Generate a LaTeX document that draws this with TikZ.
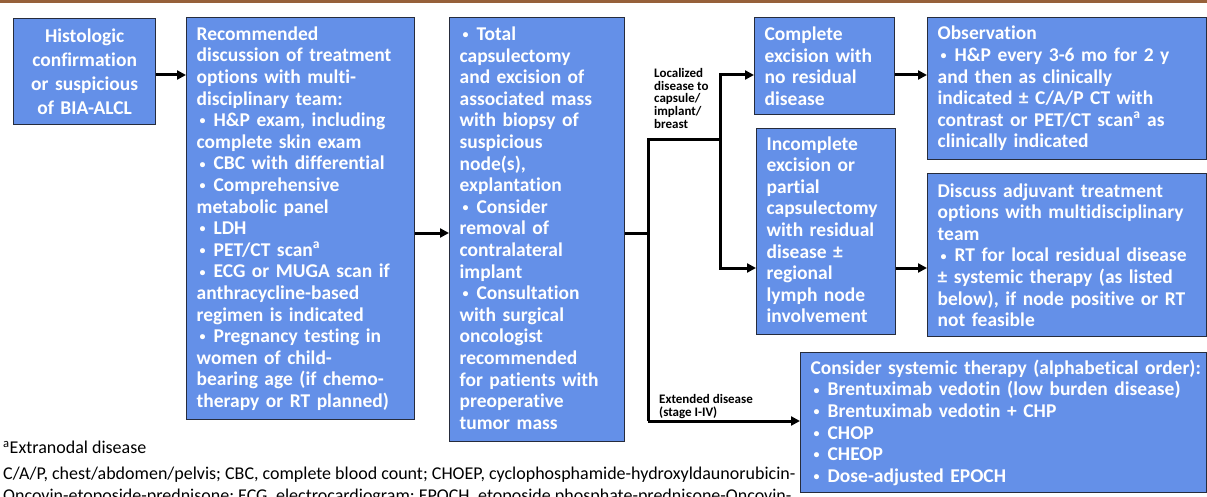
\documentclass[tikz,border=0pt]{standalone}
\usepackage{fontspec}
\setmainfont{Carlito}[Ligatures=NoCommon]
\usetikzlibrary{arrows.meta}
\definecolor{boxfill}{RGB}{100,144,232}
\definecolor{boxline}{RGB}{38,44,60}
\definecolor{topbar}{RGB}{150,96,58}
\tikzset{>={Triangle[length=9pt,width=9pt]}}
\tikzset{
  box/.style={draw=boxline, line width=1.3pt, fill=boxfill, text=white, anchor=north west,
    inner xsep=10pt, inner ysep=0pt,
    font=\bfseries\fontsize{19.5}{21.6}\selectfont},
  listbox/.style={box,
    execute at begin node={\parindent=0pt\rightskip=-12pt plus 1fil\relax}},
  conn/.style={line width=3pt},
  tag/.style={anchor=north west, inner sep=0pt, align=left, font=\bfseries\fontsize{13}{12.8}\selectfont},
  note/.style={anchor=north west, inner sep=0pt, align=left, font=\fontsize{18}{22}\selectfont}
}
\newcommand{\bitem}{\par\hangindent=17pt\hangafter=1\noindent
  \hbox to 17pt{\hskip3pt\raisebox{1.8pt}{\fontsize{12}{12}\selectfont\textbullet}\hfil}}

\begin{document}
\begin{tikzpicture}[x=1pt, y=-1pt]

  \useasboundingbox (0,0) rectangle (1207,497);
  \clip (0,0) rectangle (1207,497);
  \fill[topbar] (0,0) rectangle (1207,3);

  % Boxes, left to right
  \node[box, text width=122pt, minimum height=106pt, align=center,
        font=\bfseries\fontsize{19.5}{24}\selectfont] (hist) at (13,18)
    {Histologic\\confirmation\\or suspicious\\of BIA-ALCL};
  \node[listbox, text width=208pt, minimum height=402pt] (disc) at (186,17)
    {Recommended\\discussion of treatment\\options with multi-\\disciplinary team:
     \bitem H\&P exam, including\\complete skin exam
     \bitem CBC with differential
     \bitem Comprehensive\\metabolic panel
     \bitem LDH
     \bitem PET/CT scan\textsuperscript{a}
     \bitem ECG or MUGA scan if\\anthracycline-based\\regimen is indicated
     \bitem Pregnancy testing in\\women of child-\\bearing age (if chemo-\\therapy or RT planned)};
  \node[listbox, text width=155pt, minimum height=424pt] (surg) at (449,17)
    {\bitem Total\\capsulectomy\\and excision of\\associated mass\\with biopsy of\\suspicious\\node(s),\\explantation
     \bitem Consider\\removal of\\contralateral\\implant
     \bitem Consultation\\with surgical\\oncologist\\recommended\\for patients with\\preoperative\\tumor mass\par\vspace{11pt}};
  \node[listbox, text width=120pt, minimum height=97pt] (compl) at (754,17)
    {Complete\\excision with\\no residual\\disease};
  \node[listbox, text width=119pt, minimum height=206pt] (incompl) at (756,128)
    {Incomplete\\excision or\\partial\\capsulectomy\\with residual\\disease ±\\regional\\lymph node\\involvement\par\vspace{4pt}};
  \node[listbox, text width=259pt, minimum height=142pt] (obs) at (927,17)
    {Observation
     \bitem H\&P every 3-6 mo for 2 y\\and then as clinically\\indicated ± C/A/P CT with\\contrast or PET/CT scan\textsuperscript{a} as\\clinically indicated};
  \node[listbox, text width=259pt, minimum height=163pt] (adj) at (927,173)
    {Discuss adjuvant treatment\\options with multidisciplinary\\team
     \bitem RT for local residual disease\\± systemic therapy (as listed\\below), if node positive or RT\\not feasible};
  \node[listbox, text width=386pt, minimum height=140pt] (sys) at (800,352)
    {Consider systemic therapy (alphabetical order):
     \bitem Brentuximab vedotin (low burden disease)
     \bitem Brentuximab vedotin + CHP
     \bitem CHOP
     \bitem CHEOP
     \bitem Dose-adjusted EPOCH};

  % Branch labels
  \node[tag] (loclab) at (654,68) {Localized\\disease to\\capsule/\\implant/\\breast};
  \node[tag] (extlab) at (659,394) {Extended disease\\(stage I-IV)};

  % Connectors
  \coordinate (r1) at (0,75);
  \coordinate (mid) at (0,233);
  \coordinate (r2) at (0,268);
  \coordinate (split) at (648,233);
  \coordinate (fork) at (720,140);
  \coordinate (ext) at (648,421);
  \draw[conn,->] (hist.east |- r1) -- (disc.west |- r1);
  \draw[conn,->] (disc.east |- mid) -- (surg.west |- mid);
  \draw[conn] (surg.east |- mid) -- (split);
  \draw[conn] (fork) -- (split |- fork) -- (ext);
  \draw[conn,->] (ext) -- (sys.west |- ext);
  \draw[conn,->] (fork) |- (compl.west |- r1);
  \draw[conn,->] (fork) |- (incompl.west |- r2);
  \draw[conn,->] (compl.east |- r1) -- (obs.west |- r1);
  \draw[conn,->] (incompl.east |- r2) -- (adj.west |- r2);

  % Footnotes
  \node[note] (fna) at (3,441) {\textsuperscript{a}Extranodal disease};
  \node[note] (abbr) at (3,467) {C/A/P, chest/abdomen/pelvis; CBC, complete blood count; CHOEP, cyclophosphamide-hydroxyldaunorubicin-\\Oncovin-etoposide-prednisone; ECG, electrocardiogram; EPOCH, etoposide phosphate-prednisone-Oncovin-};

\end{tikzpicture}
\end{document}
